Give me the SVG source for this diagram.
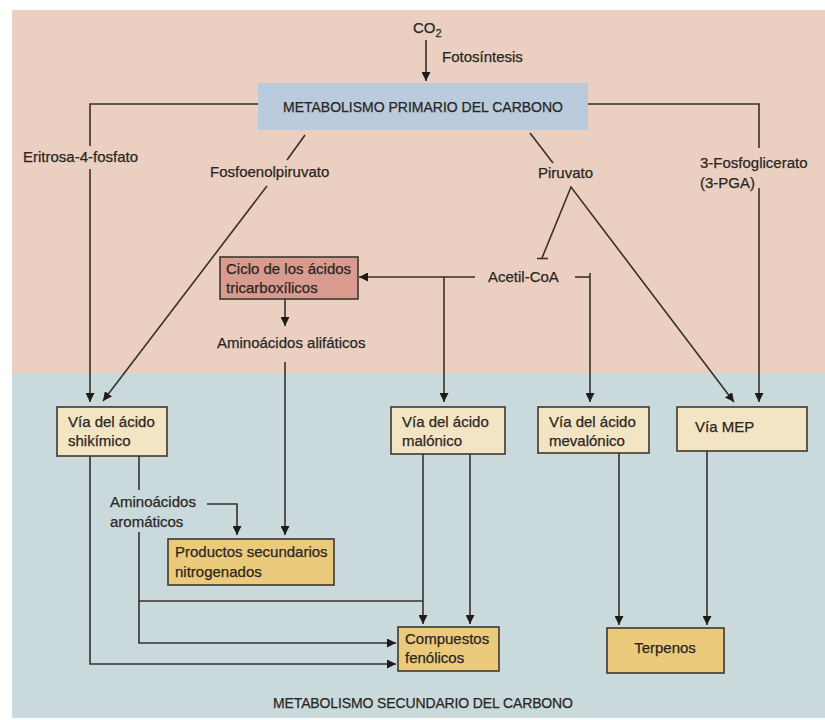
<svg xmlns="http://www.w3.org/2000/svg" width="825" height="720" viewBox="0 0 825 720">
<style>
  text { font-family: "Liberation Sans", Arial, sans-serif; font-size: 15px; fill: #2a2622; stroke: #2a2622; stroke-width: 0.25; }
  .title { font-size: 14px; }
  .c { text-anchor: middle; }
  .ln { fill: none; stroke: #36302b; stroke-width: 1.6; }
  .box { stroke: #3e372e; stroke-width: 1.6; }
  .beige { fill: #f3e4c4; }
  .gold { fill: #ebca7c; }
</style>
<defs>
  <marker id="ah" viewBox="0 0 10 10" refX="10" refY="5" markerWidth="9" markerHeight="9" markerUnits="userSpaceOnUse" orient="auto">
    <path d="M0,0 L10,5 L0,10 Z" fill="#1f1b18"/>
  </marker>
</defs>
<rect x="0" y="0" width="825" height="720" fill="#ffffff"/>
<rect x="12" y="10" width="813" height="364" fill="#ebd0c1"/>
<rect x="12" y="373" width="813" height="345" fill="#cadadc"/>

<g id="connectors">
  <path class="ln" d="M426,40 V81" marker-end="url(#ah)"/>
  <path class="ln" d="M258,104 H90 V146"/>
  <path class="ln" d="M90,169 V402" marker-end="url(#ah)"/>
  <path class="ln" d="M305,135 L287,160"/>
  <path class="ln" d="M267,186 L103,401" marker-end="url(#ah)"/>
  <path class="ln" d="M530,133 L553,163"/>
  <path class="ln" d="M542,258 L571,187 L734,402" marker-end="url(#ah)"/>
  <path class="ln" d="M537,258.5 H548"/>
  <path class="ln" d="M588,104 H759 V148"/>
  <path class="ln" d="M759,188 V402" marker-end="url(#ah)"/>
  <path class="ln" d="M475,277 H359" marker-end="url(#ah)"/>
  <path class="ln" d="M444,277 V402" marker-end="url(#ah)"/>
  <path class="ln" d="M575,277 H590"/>
  <path class="ln" d="M590,273 V402" marker-end="url(#ah)"/>
  <path class="ln" d="M285,299 V326" marker-end="url(#ah)"/>
  <path class="ln" d="M285,362 V535" marker-end="url(#ah)"/>
  <path class="ln" d="M90,456 V664 H396" marker-end="url(#ah)"/>
  <path class="ln" d="M139,456 V490"/>
  <path class="ln" d="M139,532 V643 H396" marker-end="url(#ah)"/>
  <path class="ln" d="M139,601 H423"/>
  <path class="ln" d="M207,504 H237 V535" marker-end="url(#ah)"/>
  <path class="ln" d="M423,454 V624" marker-end="url(#ah)"/>
  <path class="ln" d="M470,454 V624" marker-end="url(#ah)"/>
  <path class="ln" d="M619,453 V625" marker-end="url(#ah)"/>
  <path class="ln" d="M707,451 V625" marker-end="url(#ah)"/>
</g>

<g id="co2">
  <text x="413" y="33">CO<tspan font-size="11" dy="4">2</tspan></text>
</g>
<g id="fotosintesis"><text x="442" y="62">Fotosíntesis</text></g>

<g id="primario">
  <rect x="258" y="83" width="330" height="47" fill="#b9cbdc"/>
  <text class="title c" x="423" y="112">METABOLISMO PRIMARIO DEL CARBONO</text>
</g>

<g id="eritrosa"><text x="23" y="162">Eritrosa-4-fosfato</text></g>
<g id="fosfoenolpiruvato"><text x="210" y="177">Fosfoenolpiruvato</text></g>
<g id="piruvato"><text x="538" y="178">Piruvato</text></g>
<g id="pga">
  <text x="700" y="168">3-Fosfoglicerato</text>
  <text x="700" y="188">(3-PGA)</text>
</g>
<g id="acetilcoa"><text x="488" y="282">Acetil-CoA</text></g>

<g id="ciclo">
  <rect class="box" x="220" y="257" width="138" height="42" fill="#d99a8f"/>
  <text x="226" y="274">Ciclo de los ácidos</text>
  <text x="226" y="293">tricarboxílicos</text>
</g>
<g id="alifaticos"><text x="217" y="348">Aminoácidos alifáticos</text></g>

<g id="shikimico">
  <rect class="box beige" x="57" y="407" width="110" height="49"/>
  <text x="68" y="427">Vía del ácido</text>
  <text x="68" y="446">shikímico</text>
</g>
<g id="malonico">
  <rect class="box beige" x="391" y="407" width="114" height="47"/>
  <text x="402" y="427">Vía del ácido</text>
  <text x="402" y="446">malónico</text>
</g>
<g id="mevalonico">
  <rect class="box beige" x="538" y="407" width="111" height="46"/>
  <text x="549" y="427">Vía del ácido</text>
  <text x="549" y="446">mevalónico</text>
</g>
<g id="mep">
  <rect class="box beige" x="677" y="407" width="130" height="44"/>
  <text x="695" y="432">Vía MEP</text>
</g>

<g id="aromaticos">
  <text x="110" y="507">Aminoácidos</text>
  <text x="110" y="527">aromáticos</text>
</g>

<g id="productos">
  <rect class="box gold" x="168" y="539" width="166" height="46"/>
  <text x="175" y="557">Productos secundarios</text>
  <text x="175" y="577">nitrogenados</text>
</g>
<g id="compuestos">
  <rect class="box gold" x="398" y="627" width="101" height="44"/>
  <text x="405" y="644">Compuestos</text>
  <text x="405" y="663">fenólicos</text>
</g>
<g id="terpenos">
  <rect class="box gold" x="607" y="628" width="117" height="45"/>
  <text class="c" x="665" y="653">Terpenos</text>
</g>

<g id="secundario">
  <text class="title c" x="423" y="708" textLength="300">METABOLISMO SECUNDARIO DEL CARBONO</text>
</g>
</svg>
